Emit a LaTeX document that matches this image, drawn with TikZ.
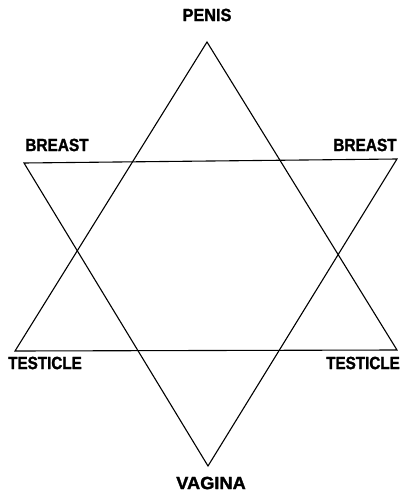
\documentclass[tikz,border=0pt]{standalone}
\usepackage{fontspec}
\usepackage{graphicx}
\setmainfont{Liberation Sans}[BoldFeatures={FakeBold=1.6}]
\usetikzlibrary{positioning}

\begin{document}
\begin{tikzpicture}[x=1pt, y=-1pt, line join=miter,
    lbl/.style={font=\fontsize{17.7}{18}\selectfont\bfseries, inner sep=0pt},
    edge/.style={line width=1.1pt}]
    \useasboundingbox (0,0) rectangle (403,495);

    % Ecken der beiden Dreiecke
    \coordinate (penis) at (207,42);
    \coordinate (testL) at (15,351);
    \coordinate (testR) at (397,350);
    \coordinate (breastL) at (24,163);
    \coordinate (breastR) at (397,159);
    \coordinate (vagina) at (208,466);

    % Dreiecke
    \draw[edge] (penis) -- (testL) -- (testR) -- cycle;
    \draw[edge] (breastL) -- (breastR) -- (vagina) -- cycle;

    % Beschriftungen
    \node[lbl] (lpenis) at (207,15) {\scalebox{0.92}[1]{PENIS}};
    \node[lbl] (lbreastL) at (57,145) {\scalebox{0.87}[1]{BREAST}};
    \node[lbl] (lbreastR) at (365,145) {\scalebox{0.87}[1]{BREAST}};
    \node[lbl] (ltestL) at (45,363) {\scalebox{0.86}[1]{TESTICLE}};
    \node[lbl] (ltestR) at (363,363) {\scalebox{0.86}[1]{TESTICLE}};
    \node[lbl] (lvagina) at (211,483) {\scalebox{1.03}[1]{VAGINA}};
\end{tikzpicture}
\end{document}
